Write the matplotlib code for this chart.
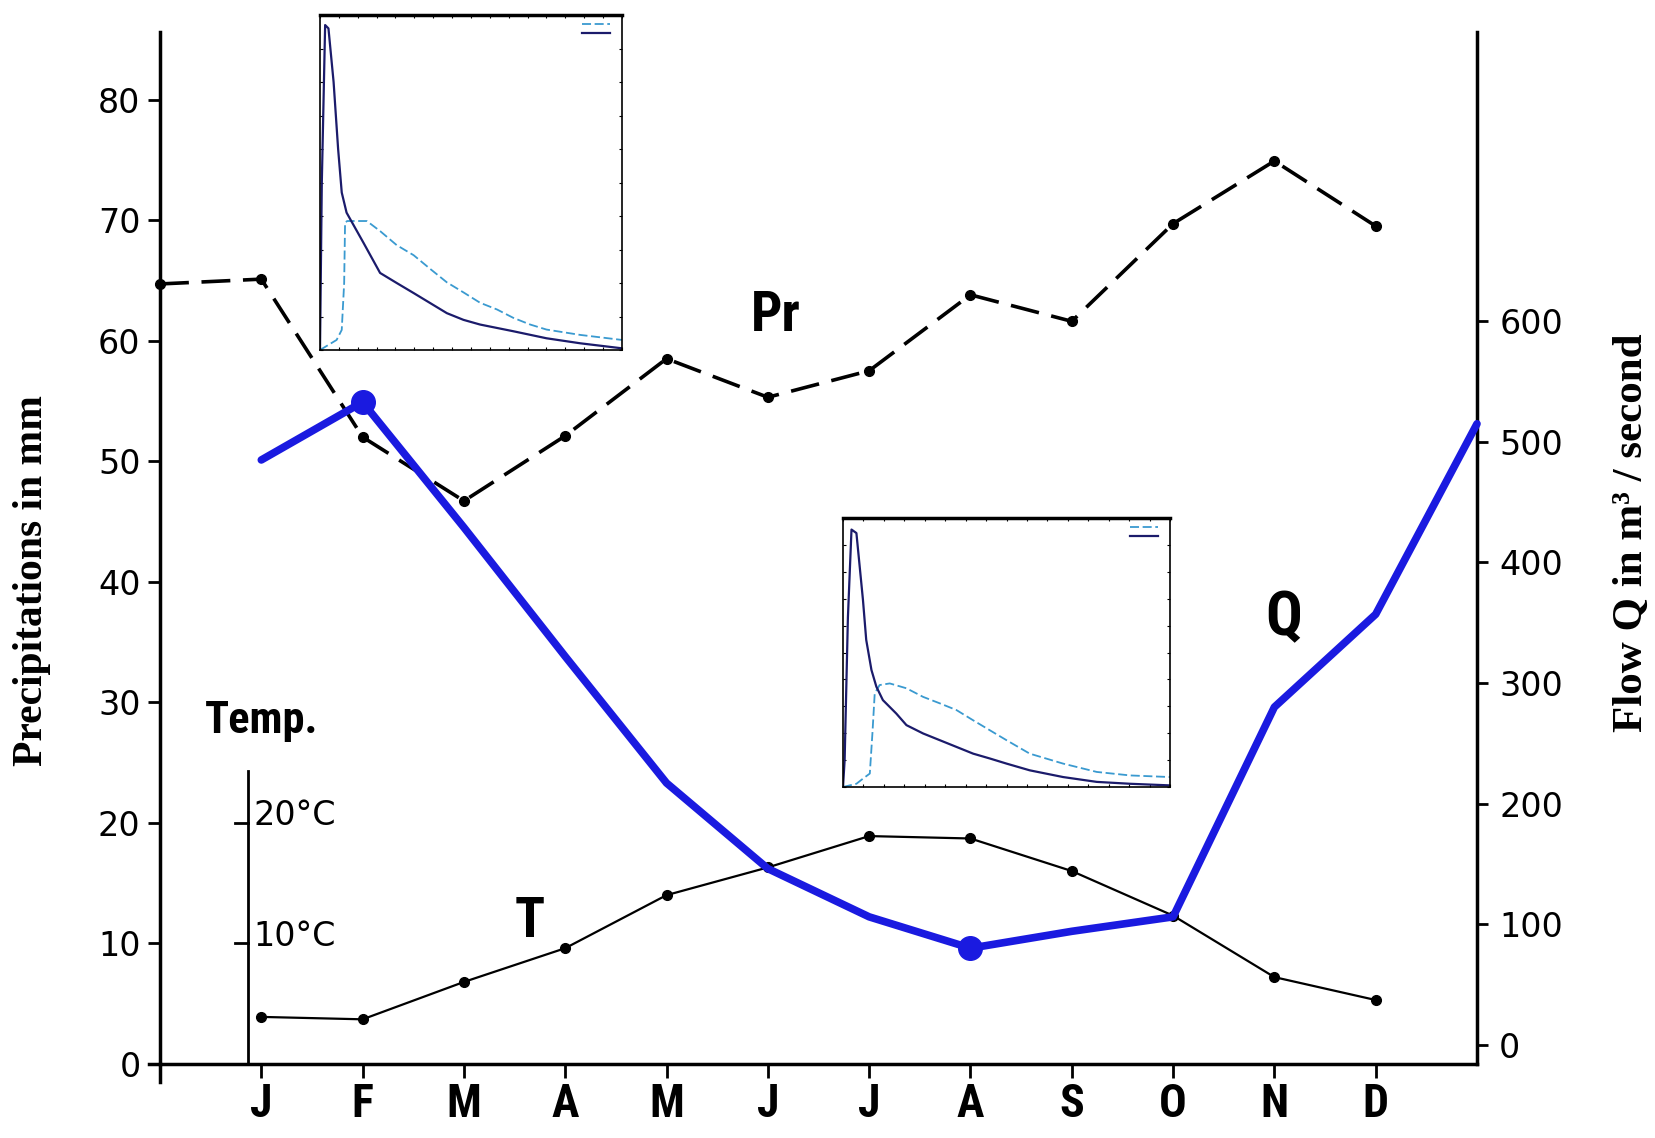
import matplotlib
matplotlib.use("Agg")
import matplotlib.pyplot as plt
import matplotlib.font_manager as fm
from matplotlib.lines import Line2D

# ---------------- data ----------------
months = ["J", "F", "M", "A", "M", "J", "J", "A", "S", "O", "N", "D"]
month_pos = list(range(1, 13))

# Precipitation (mm) – the dashed line starts at the left axis (position 0)
pr_pos = [0] + month_pos
pr_vals = [64.7, 65.1, 52.0, 46.7, 52.1, 58.5, 55.3, 57.5, 63.8, 61.6, 69.7, 74.9, 69.5]

# Temperature (deg C, drawn on the precipitation scale)
temp_vals = [3.9, 3.7, 6.8, 9.6, 14.0, 16.3, 18.9, 18.7, 16.0, 12.3, 7.2, 5.3]

# Flow Q (m3/s) – the line ends on the right axis (position 13)
q_pos = month_pos + [13]
q_vals = [485, 533, 429, 322, 217, 146, 106, 80, 94, 106, 280, 357, 515]
q_big_dots = [1, 7]

left_ticks = [0, 10, 20, 30, 40, 50, 60, 70, 80]
right_ticks = [0, 100, 200, 300, 400, 500, 600]
temp_ticks = [10, 20]
temp_tick_labels = ["10°C", "20°C"]

# inset 1 curves (normalised)
in1_dark_x = [0, 0.006, 0.017, 0.028, 0.045, 0.06, 0.072, 0.088, 0.144, 0.199, 0.254, 0.31,
              0.365, 0.42, 0.475, 0.53, 0.64, 0.75, 0.862, 1.0]
in1_dark_y = [0, 0.5, 0.97, 0.96, 0.80, 0.60, 0.47, 0.41, 0.32, 0.23, 0.20, 0.17,
              0.14, 0.11, 0.09, 0.076, 0.056, 0.035, 0.02, 0.005]
in1_light_x = [0, 0.055, 0.072, 0.08, 0.083, 0.09, 0.155, 0.199, 0.254, 0.31, 0.365, 0.42,
               0.475, 0.53, 0.586, 0.64, 0.696, 0.75, 0.862, 1.0]
in1_light_y = [0, 0.03, 0.06, 0.2, 0.38, 0.385, 0.385, 0.355, 0.313, 0.283, 0.242, 0.202,
               0.172, 0.141, 0.121, 0.096, 0.076, 0.061, 0.045, 0.03]

# inset 2 curves (normalised)
in2_dark_x = [0, 0.005, 0.015, 0.026, 0.041, 0.061, 0.071, 0.087, 0.102, 0.122, 0.163, 0.194,
              0.245, 0.296, 0.347, 0.398, 0.449, 0.5, 0.571, 0.673, 0.776, 0.878, 1.0]
in2_dark_y = [0, 0.1, 0.63, 0.957, 0.944, 0.696, 0.547, 0.435, 0.373, 0.323, 0.273, 0.230,
              0.199, 0.174, 0.149, 0.124, 0.106, 0.087, 0.062, 0.037, 0.019, 0.012, 0.006]
in2_light_x = [0, 0.041, 0.061, 0.082, 0.09, 0.097, 0.112, 0.143, 0.194, 0.245, 0.296, 0.347,
               0.398, 0.449, 0.5, 0.571, 0.673, 0.776, 0.878, 1.0]
in2_light_y = [0, 0.012, 0.031, 0.05, 0.2, 0.348, 0.379, 0.385, 0.367, 0.335, 0.311, 0.286,
               0.248, 0.211, 0.174, 0.124, 0.087, 0.056, 0.043, 0.037]


# ---------------- fonts ----------------
def condensed_font():
    for fam in ["Roboto Condensed", "Liberation Sans Narrow", "Open Sans Condensed"]:
        try:
            fm.findfont(fm.FontProperties(family=fam, weight="bold"),
                        fallback_to_default=False)
            return {"family": fam}
        except Exception:
            pass
    try:
        p = fm.findfont(fm.FontProperties(family="DejaVu Sans", weight="bold",
                                          stretch="condensed"),
                        fallback_to_default=False)
        if "ondensed" in p:
            return {"family": "DejaVu Sans", "stretch": "condensed"}
    except Exception:
        pass
    return None


COND = condensed_font()
if COND is not None:
    lab_kw = dict(fontweight="bold", **COND)
    sz = dict(month=33, pr=40, q=44, t=40, temp=32)
else:
    lab_kw = dict(fontweight="bold", family="DejaVu Sans")
    sz = dict(month=24, pr=28, q=30, t=26, temp=23)

NUMF = ["DejaVu Sans"]

# ---------------- figure ----------------
W, H = 1656, 1138
fig = plt.figure(figsize=(W / 100, H / 100), dpi=100)
fig.patch.set_facecolor("white")


def fx(px):
    return px / W


def fy(py):
    return 1 - py / H


ax = fig.add_axes([fx(160), fy(1082), fx(1477) - fx(160), fy(32) - fy(1082)])
ylo, yhi = -1.5, 85.6
ax.set_xlim(0, 13)
ax.set_ylim(ylo, yhi)

for s in ["top", "right"]:
    ax.spines[s].set_visible(False)
ax.spines["left"].set_linewidth(2.5)
ax.spines["bottom"].set_linewidth(2.5)
ax.spines["bottom"].set_position(("data", 0))
ax.axhline(0, xmin=-0.008, xmax=0.0, color="black", lw=2.5, clip_on=False)

ax.set_yticks(left_ticks)
ax.set_yticklabels([str(t) for t in left_ticks], fontsize=24, family=NUMF)
ax.tick_params(axis="y", direction="out", length=9, width=2, pad=5)
ax.set_xticks(month_pos)
ax.set_xticklabels(months, fontsize=sz["month"], **lab_kw)
ax.tick_params(axis="x", direction="out", length=10, width=2, pad=28)
for lab in ax.get_xticklabels():
    lab.set_verticalalignment("baseline")

# right axis for Q
ax2 = ax.twinx()
q_off = -16
ax2.set_ylim(ylo * 10 + q_off, yhi * 10 + q_off)
for s in ["top", "left", "bottom"]:
    ax2.spines[s].set_visible(False)
ax2.spines["right"].set_linewidth(2.5)
ax2.spines["right"].set_bounds(q_off, yhi * 10 + q_off)
ax2.set_yticks(right_ticks)
ax2.set_yticklabels([str(t) for t in right_ticks], fontsize=24, family=NUMF)
ax2.tick_params(axis="y", direction="out", length=8, width=2, pad=8)

# Precipitation line
ax.plot(pr_pos, pr_vals, color="black", lw=2.6, linestyle=(0, (8, 3.5)),
        marker="o", markersize=7, zorder=3, clip_on=False)

# Temperature line
ax.plot(month_pos, temp_vals, color="black", lw=1.6, marker="o", markersize=7,
        zorder=3, clip_on=False)

# Flow line
qcol = "#1a1ae0"
ax2.plot(q_pos, q_vals, color=qcol, lw=5.5, solid_capstyle="round",
         solid_joinstyle="round", zorder=4, clip_on=False)
ax2.plot([q_pos[i] for i in q_big_dots], [q_vals[i] for i in q_big_dots], "o",
         color=qcol, markersize=17, zorder=5)

# temperature sub-axis
tx = 0.87
ax.plot([tx, tx], [0, 24.3], color="black", lw=2, clip_on=False)
for t in temp_ticks:
    ax.plot([tx - 0.13, tx], [t, t], color="black", lw=2)
for t, lab in zip(temp_ticks, temp_tick_labels):
    ax.text(tx + 0.05, t + 0.6, lab, fontsize=24, family=NUMF,
            va="center", ha="left")

# annotations
fig.text(fx(262), fy(721), "Temp.", fontsize=sz["temp"], ha="center",
         va="center", **lab_kw)
fig.text(fx(776), fy(316), "Pr", fontsize=sz["pr"], ha="center",
         va="center", **lab_kw)
fig.text(fx(1284), fy(618), "Q", fontsize=sz["q"], ha="center",
         va="center", **lab_kw)
fig.text(fx(530), fy(922), "T", fontsize=sz["t"], ha="center",
         va="center", **lab_kw)

# axis titles
fig.text(fx(32), fy(580), "Precipitations in mm", rotation=90, fontsize=30,
         fontweight="bold", family="Liberation Serif", ha="center", va="center")
fig.text(fx(1632), fy(533), "Flow Q in m³ / second", rotation=90, fontsize=31,
         fontweight="bold", family="Liberation Serif", ha="center", va="center")

dark = "#1b1b6b"
light = "#3a9ad0"


def inset(rect, dx, dy, lx, ly):
    a = fig.add_axes(rect)
    a.set_facecolor("white")
    a.set_xlim(0, 1)
    a.set_ylim(0, 1)
    a.plot(lx, ly, color=light, lw=1.3, linestyle=(0, (5, 2)))
    a.plot(dx, dy, color=dark, lw=1.6)
    for s in a.spines.values():
        s.set_linewidth(1.2)
    a.spines["top"].set_linewidth(2.5)
    a.set_xticks([i / 16 for i in range(17)])
    a.set_yticks([i / 10 for i in range(11)])
    a.tick_params(length=2, width=0.8, labelbottom=False, labelleft=False,
                  direction="in", top=True, right=True)
    h = [Line2D([], [], color=light, lw=1.3, linestyle=(0, (5, 2))),
         Line2D([], [], color=dark, lw=1.6)]
    a.legend(h, ["", ""], loc="upper right", frameon=False, fontsize=5,
             handlelength=4)
    return a


inset([fx(320), fy(350), fx(622) - fx(320), fy(15) - fy(350)],
      in1_dark_x, in1_dark_y, in1_light_x, in1_light_y)
inset([fx(843), fy(787), fx(1170) - fx(843), fy(518) - fy(787)],
      in2_dark_x, in2_dark_y, in2_light_x, in2_light_y)

fig.savefig("out.png", dpi=100, facecolor="white")
